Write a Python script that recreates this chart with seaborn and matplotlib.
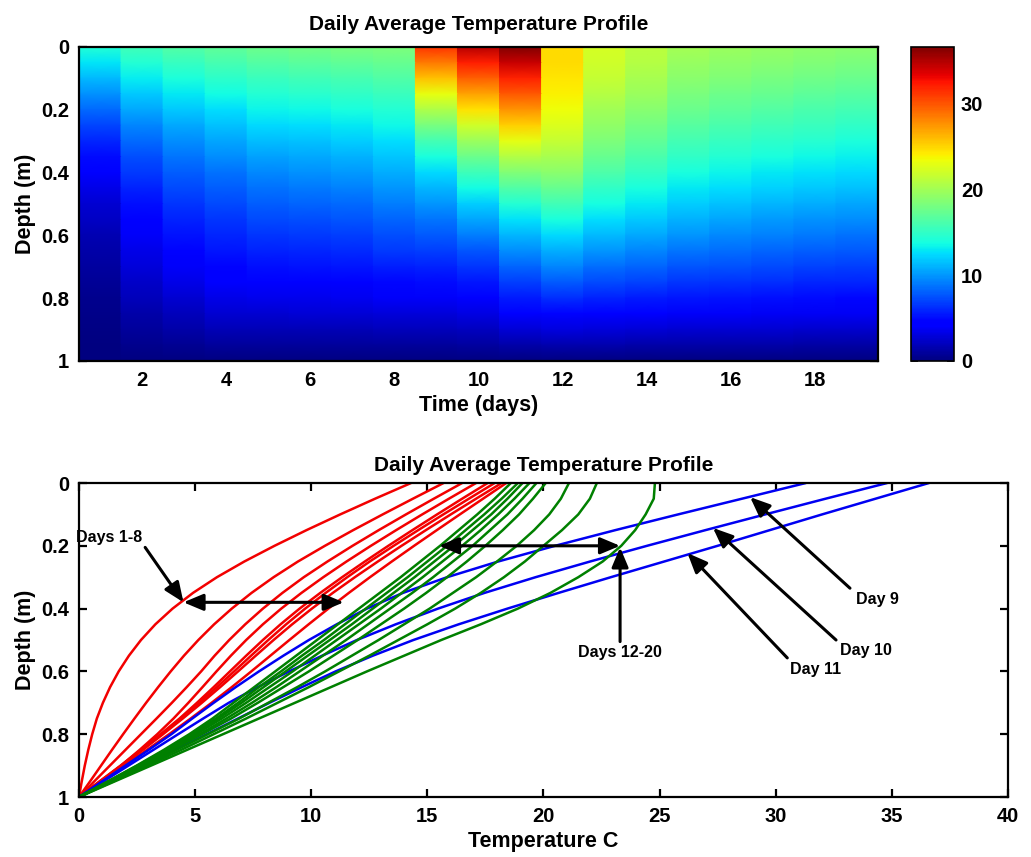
import numpy as np
import pandas as pd
import matplotlib
matplotlib.use("Agg")
import matplotlib.pyplot as plt
import seaborn as sns

# ---------------- data ----------------
depths = [0.0, 0.05, 0.1, 0.15, 0.2, 0.25, 0.3, 0.35, 0.4, 0.45, 0.5,
          0.55, 0.6, 0.65, 0.7, 0.75, 0.8, 0.85, 0.9, 0.95, 1.0]

# temperature (C) at each depth, one list per day
days_1_8 = [
    [14.3, 12.75, 11.25, 9.8, 8.42, 7.12, 5.94, 4.91, 4.03, 3.29, 2.67, 2.15, 1.71, 1.34, 1.03, 0.77, 0.57, 0.40, 0.25, 0.12, 0.0],
    [15.7, 14.38, 13.08, 11.81, 10.59, 9.43, 8.38, 7.43, 6.58, 5.82, 5.14, 4.52, 3.95, 3.41, 2.89, 2.39, 1.9, 1.42, 0.95, 0.48, 0.0],
    [16.5, 15.28, 14.08, 12.91, 11.78, 10.7, 9.68, 8.76, 7.92, 7.16, 6.47, 5.84, 5.26, 4.64, 4.0, 3.34, 2.67, 2.0, 1.33, 0.66, 0.0],
    [17.1, 15.93, 14.78, 13.66, 12.57, 11.52, 10.52, 9.58, 8.71, 7.92, 7.2, 6.54, 5.92, 5.32, 4.71, 4.07, 3.37, 2.61, 1.81, 0.95, 0.0],
    [17.6, 16.5, 15.42, 14.36, 13.32, 12.31, 11.33, 10.39, 9.5, 8.68, 7.92, 7.2, 6.5, 5.8, 5.08, 4.33, 3.51, 2.66, 1.79, 0.89, 0.0],
    [17.9, 16.79, 15.69, 14.61, 13.55, 12.52, 11.55, 10.62, 9.74, 8.92, 8.15, 7.41, 6.68, 5.94, 5.18, 4.39, 3.57, 2.72, 1.84, 0.93, 0.0],
    [18.2, 17.1, 16.01, 14.94, 13.89, 12.87, 11.88, 10.93, 10.03, 9.18, 8.38, 7.61, 6.85, 6.08, 5.29, 4.47, 3.62, 2.74, 1.83, 0.9, 0.0],
    [18.4, 17.4, 16.4, 15.41, 14.43, 13.47, 12.53, 11.62, 10.74, 9.89, 9.06, 8.24, 7.42, 6.58, 5.71, 4.81, 3.88, 2.92, 1.94, 0.95, 0.0],
]
days_9_11 = [
    [31.3, 28.55, 25.8, 23.1, 20.5, 18.05, 15.85, 13.95, 12.4, 11.1, 9.9, 8.8, 7.75, 6.75, 5.8, 4.88, 3.98, 3.0, 2.0, 1.0, 0.0],
    [34.8, 32.15, 29.55, 26.98, 24.46, 22.01, 19.66, 17.46, 15.46, 13.64, 11.97, 10.47, 9.05, 7.7, 6.45, 5.35, 4.27, 3.2, 2.13, 1.06, 0.0],
    [36.6, 34.3, 32.0, 29.75, 27.5, 25.2, 22.9, 20.65, 18.45, 16.35, 14.4, 12.65, 11.05, 9.6, 8.2, 6.85, 5.5, 4.15, 2.78, 1.39, 0.0],
]
days_12_20 = [
    [24.8, 24.75, 24.4, 23.95, 23.35, 22.55, 21.5, 20.3, 18.9, 17.3, 15.6, 14.0, 12.4, 10.85, 9.3, 7.75, 6.2, 4.65, 3.1, 1.55, 0.0],
    [22.3, 22.0, 21.5, 20.8, 20.0, 19.2, 18.3, 17.3, 16.2, 15.0, 13.75, 12.5, 11.2, 9.9, 8.55, 7.2, 5.8, 4.4, 2.95, 1.48, 0.0],
    [21.1, 20.75, 20.25, 19.6, 18.85, 18.0, 17.1, 16.1, 15.1, 14.0, 12.9, 11.75, 10.6, 9.4, 8.15, 6.9, 5.55, 4.2, 2.8, 1.4, 0.0],
    [20.1, 19.55, 18.95, 18.25, 17.5, 16.7, 15.85, 14.95, 14.0, 13.0, 12.0, 10.95, 9.9, 8.8, 7.7, 6.55, 5.3, 4.0, 2.7, 1.35, 0.0],
    [19.7, 19.1, 18.45, 17.7, 16.95, 16.1, 15.25, 14.35, 13.4, 12.45, 11.5, 10.5, 9.5, 8.5, 7.45, 6.35, 5.2, 3.95, 2.65, 1.33, 0.0],
    [19.4, 18.75, 18.05, 17.3, 16.5, 15.65, 14.8, 13.9, 13.0, 12.05, 11.1, 10.15, 9.2, 8.2, 7.2, 6.15, 5.05, 3.85, 2.6, 1.3, 0.0],
    [19.1, 18.45, 17.75, 16.95, 16.15, 15.3, 14.45, 13.55, 12.65, 11.75, 10.8, 9.85, 8.9, 7.95, 7.0, 6.0, 4.95, 3.8, 2.55, 1.28, 0.0],
    [18.9, 18.2, 17.45, 16.65, 15.85, 15.0, 14.15, 13.25, 12.35, 11.45, 10.55, 9.6, 8.7, 7.75, 6.85, 5.9, 4.85, 3.72, 2.52, 1.27, 0.0],
    [18.6, 17.9, 17.15, 16.35, 15.55, 14.7, 13.85, 12.95, 12.05, 11.15, 10.25, 9.35, 8.45, 7.55, 6.65, 5.75, 4.75, 3.65, 2.48, 1.25, 0.0],
]

heat_days = list(range(1, 20))          # columns shown in the map
time_ticks = [2, 4, 6, 8, 10, 12, 14, 16, 18]
temp_ticks = [0, 5, 10, 15, 20, 25, 30, 35, 40]
depth_ticks = [0, 0.2, 0.4, 0.6, 0.8, 1]
depth_ticklabels = ["0", "0.2", "0.4", "0.6", "0.8", "1"]
cbar_ticks = [0, 10, 20, 30]

title = "Daily Average Temperature Profile"

# ---------------- style ----------------
sns.set_theme(style="white")
plt.rcParams["font.family"] = ["Liberation Sans", "DejaVu Sans"]
plt.rcParams["font.weight"] = "bold"
plt.rcParams["axes.labelweight"] = "bold"
plt.rcParams["axes.titleweight"] = "bold"
for key in ["text.color", "axes.labelcolor", "xtick.color", "ytick.color", "axes.edgecolor"]:
    plt.rcParams[key] = "black"
plt.rcParams["axes.linewidth"] = 1.6

TICK_FS = 14.5
LABEL_FS = 15.5
TITLE_FS = 15

fig = plt.figure(figsize=(10.31, 8.57), dpi=100)
ax1 = fig.add_axes([0.0766, 0.5788, 0.775, 0.3664])
cax = fig.add_axes([0.8836, 0.5788, 0.0417, 0.3664])
ax2 = fig.add_axes([0.0766, 0.070, 0.901, 0.3664])

all_profiles = days_1_8 + days_9_11 + days_12_20
vmax = float(np.max(all_profiles))

# ---------------- top: time-depth map ----------------
T = np.array(all_profiles[: len(heat_days)]).T          # depth x day
xs = np.ravel([[d - 0.5, d + 0.5] for d in heat_days])
Xg, Yg = np.meshgrid(xs, depths)
C = np.repeat(T, 2, axis=1)
mesh = ax1.pcolormesh(Xg, Yg, C, shading="gouraud", cmap="jet", vmin=0, vmax=vmax)
ax1.set_xlim(0.5, 19.5)
ax1.set_ylim(1, 0)
ax1.set_xticks(time_ticks)
ax1.set_yticks(depth_ticks)
ax1.set_yticklabels(depth_ticklabels)
ax1.set_xlabel("Time (days)", fontsize=LABEL_FS, labelpad=4)
ax1.set_ylabel("Depth (m)", fontsize=LABEL_FS)
ax1.set_title(title, fontsize=TITLE_FS, pad=12)

cb = fig.colorbar(mesh, cax=cax)
cb.set_ticks(cbar_ticks)
cb.outline.set_linewidth(1.2)
cax.tick_params(direction="in", length=5, width=1.2, labelsize=TICK_FS,
                left=True, right=True, pad=5)

# ---------------- bottom: profiles ----------------
colors = {}
rows = []
for i, prof in enumerate(all_profiles):
    day = i + 1
    if day <= 8:
        colors[day] = (0.95, 0.0, 0.0)
    elif day <= 11:
        colors[day] = (0.0, 0.0, 0.95)
    else:
        colors[day] = (0.0, 0.5, 0.0)
    for dep, t in zip(depths, prof):
        rows.append({"day": day, "depth": dep, "temp": t})
df = pd.DataFrame(rows)

sns.lineplot(data=df, x="temp", y="depth", hue="day", palette=colors,
             orient="y", estimator=None, legend=False, linewidth=1.8, ax=ax2)
ax2.set_xlim(0, 40)
ax2.set_ylim(1, 0)
ax2.set_xticks(temp_ticks)
ax2.set_yticks(depth_ticks)
ax2.set_yticklabels(depth_ticklabels)
ax2.set_xlabel("Temperature C", fontsize=LABEL_FS, labelpad=4)
ax2.set_ylabel("Depth (m)", fontsize=LABEL_FS)
ax2.set_title(title, fontsize=TITLE_FS, pad=9)

for ax in (ax1, ax2):
    ax.tick_params(direction="in", length=6, width=1.6, labelsize=TICK_FS,
                   top=True, right=True, bottom=True, left=True, pad=7)
    for s in ax.spines.values():
        s.set_visible(True)
        s.set_color("black")
        s.set_linewidth(1.6)

# annotations
one = dict(arrowstyle="-|>,head_length=1.0,head_width=0.42", color="black", lw=2.2,
           shrinkA=0, shrinkB=0)
two = dict(arrowstyle="<|-|>,head_length=1.0,head_width=0.42", color="black", lw=2.2,
           shrinkA=0, shrinkB=0)
fs = 11.5
ax2.annotate("", xy=(4.5, 0.38), xytext=(11.4, 0.38), arrowprops=two)
ax2.annotate("", xy=(15.5, 0.2), xytext=(23.3, 0.2), arrowprops=two)
ax2.text(1.3, 0.172, "Days 1-8", ha="center", va="center", fontsize=fs)
ax2.annotate("", xy=(4.5, 0.38), xytext=(2.85, 0.205), arrowprops=one)
ax2.text(23.3, 0.54, "Days 12-20", ha="center", va="center", fontsize=fs)
ax2.annotate("", xy=(23.3, 0.205), xytext=(23.3, 0.505), arrowprops=one)
ax2.text(34.4, 0.37, "Day 9", ha="center", va="center", fontsize=fs)
ax2.annotate("", xy=(28.9, 0.045), xytext=(33.2, 0.335), arrowprops=one)
ax2.text(33.9, 0.535, "Day 10", ha="center", va="center", fontsize=fs)
ax2.annotate("", xy=(27.3, 0.143), xytext=(32.6, 0.50), arrowprops=one)
ax2.text(31.7, 0.593, "Day 11", ha="center", va="center", fontsize=fs)
ax2.annotate("", xy=(26.2, 0.223), xytext=(30.5, 0.557), arrowprops=one)

fig.savefig("out.png", dpi=100, facecolor="white")
